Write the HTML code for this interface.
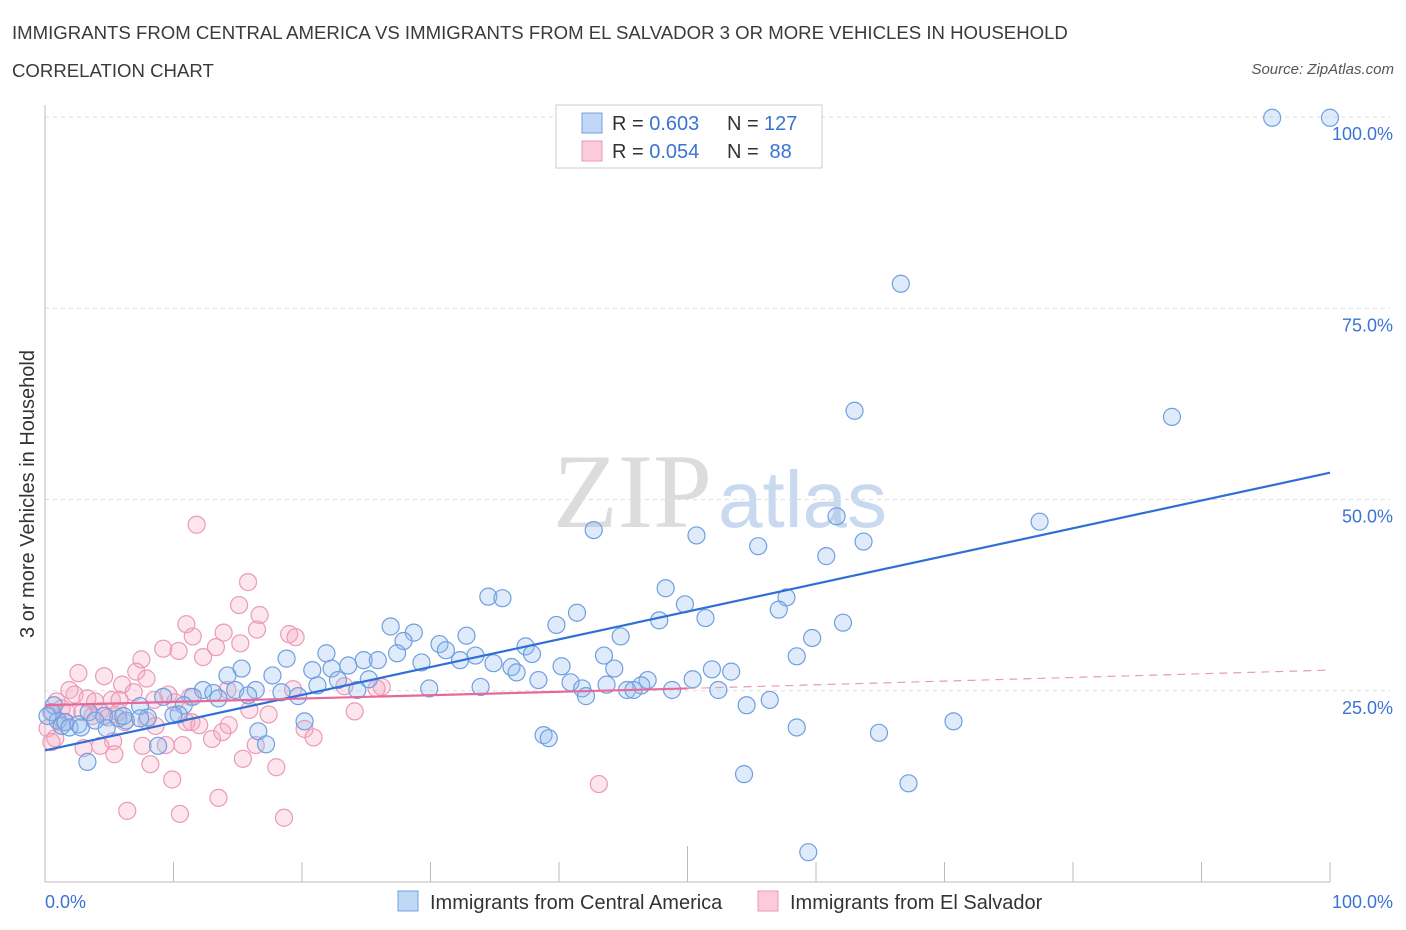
<!DOCTYPE html>
<html><head><meta charset="utf-8"><style>
body{margin:0;background:#fff;font-family:"Liberation Sans",sans-serif;}
#wrap{position:relative;width:1406px;height:930px;overflow:hidden;}
.t{position:absolute;white-space:nowrap;}
</style></head><body>
<div id="wrap">
<div class="t" style="left:12px;top:22px;font-size:18.6px;color:#3a3a3a;">IMMIGRANTS FROM CENTRAL AMERICA VS IMMIGRANTS FROM EL SALVADOR 3 OR MORE VEHICLES IN HOUSEHOLD</div>
<div class="t" style="left:12px;top:60px;font-size:18.6px;color:#3a3a3a;">CORRELATION CHART</div>
<div class="t" style="right:12px;top:61px;font-size:15px;color:#555;font-style:italic;">Source: ZipAtlas.com</div>
<svg id="svg" width="1406" height="930" style="position:absolute;left:0;top:0"></svg>
</div>
<script>
const blueX=[95.5,100,66.6,63.0,87.7,77.4,61.6,42.7,50.7,55.5,63.7,60.8,48.3,34.5,35.6,57.7,49.8,41.4,57.1,47.8,51.4,62.1,26.9,28.7,39.8,32.8,27.9,44.8,59.7,21.9,30.7,37.4,31.2,27.4,33.5,37.9,43.5,58.5,18.8,24.8,25.9,23.6,29.3,32.3,15.3,20.8,22.3,34.9,36.3,40.2,44.3,51.9,53.4,14.2,17.7,36.7,22.8,25.2,38.4,46.9,50.4,40.9,46.4,16.4,21.2,29.9,33.9,41.8,43.7,45.3,45.8,48.8,52.4,12.3,13.1,14.8,18.4,19.7,24.3,42.1,9.2,11.5,13.5,15.8,10.8,7.4,10.4,54.6,56.4,3.4,4.6,5.7,6.3,8.0,10.0,0.5,1.0,1.3,1.6,1.9,2.6,2.8,3.9,4.8,6.1,7.4,20.2,16.6,70.7,58.5,64.9,38.8,39.2,8.8,17.2,3.3,54.4,67.2,59.4,0.7,0.2];
const blueY=[99.9,99.9,78.2,61.6,60.8,47.1,47.8,46.0,45.3,43.9,44.5,42.6,38.4,37.3,37.1,37.2,36.3,35.2,35.6,34.2,34.5,33.9,33.4,32.6,33.6,32.2,31.5,32.1,31.9,29.9,31.1,30.8,30.3,29.9,29.6,29.8,29.6,29.5,29.2,29.0,29.0,28.3,28.7,29.0,27.9,27.7,27.9,28.6,28.1,28.2,27.9,27.8,27.5,27.0,27.0,27.4,26.4,26.5,26.4,26.4,26.5,26.1,25.7,25.1,25.7,25.3,25.5,25.3,25.8,25.1,25.1,25.1,25.1,25.1,24.7,25.1,24.8,24.3,25.1,24.3,24.2,24.2,24.0,24.4,23.1,23.0,21.9,23.1,23.8,22.2,21.7,21.4,21.1,21.5,21.8,22.2,21.1,20.4,20.9,20.2,20.6,20.2,21.1,20.1,21.7,21.4,21.0,19.7,21.0,20.2,19.5,19.2,18.8,17.8,18.0,15.7,14.1,12.9,3.9,23.1,21.7];
const pinkX=[11.8,15.8,15.1,16.7,11.0,19.0,19.5,11.5,13.9,16.5,15.2,13.3,9.2,10.4,12.3,7.5,7.1,7.9,2.6,4.6,6.0,6.9,1.9,2.3,3.3,3.9,5.2,0.9,1.3,9.6,10.1,8.5,11.3,19.3,26.2,23.3,25.8,0.6,1.7,2.9,3.7,4.3,4.9,5.7,6.2,7.9,8.6,11.0,11.4,12.0,14.3,17.4,15.9,24.1,20.2,20.9,0.2,0.8,0.5,5.3,3.0,4.3,7.6,9.4,10.7,13.0,13.8,16.4,15.4,5.4,8.2,18.0,9.9,43.1,13.5,6.4,10.5,18.6,1.5,5.8,14.2];
const pinkY=[46.7,39.2,36.2,34.9,33.7,32.4,32.0,32.1,32.6,33.0,31.2,30.7,30.5,30.2,29.4,29.1,27.5,26.6,27.3,26.9,25.8,24.8,25.1,24.5,24.0,23.6,23.8,23.6,22.7,24.5,23.5,23.8,24.2,25.2,25.5,25.6,25.3,22.2,22.2,22.2,21.7,22.3,21.5,22.2,20.9,21.1,20.4,20.9,20.9,20.5,20.5,21.9,22.5,22.3,20.0,18.9,20.1,18.8,18.3,18.4,17.5,17.8,17.8,17.9,17.9,18.7,19.6,17.9,16.1,16.7,15.4,15.0,13.4,12.8,11.0,9.3,8.9,8.4,20.9,23.8,25.1];
const yTicks=[25,50,75,100];
const yTickLabels=["25.0%","50.0%","75.0%","100.0%"];
const blueTrend=[17.2,53.5];
const pinkTrend=[23.1,25.3,27.7];

const svg=document.getElementById('svg');
const NS='http://www.w3.org/2000/svg';
const X0=45,X1=1330,Y0=882,Y100=117;
const sx=v=>X0+(X1-X0)*v/100, sy=v=>Y0-(Y0-Y100)*v/100;
function mk(tag,attrs,parent){const e=document.createElementNS(NS,tag);for(const k in attrs)e.setAttribute(k,attrs[k]);(parent||svg).appendChild(e);return e;}
let w=mk('text',{x:553,y:527,'font-size':106,'font-family':'Liberation Serif,serif',fill:'#dcdcdc'});w.textContent='ZIP';


let w2=mk('text',{x:718,y:527,'font-size':80,'font-family':'Liberation Sans,sans-serif',fill:'#c9d9ef'});w2.textContent='atlas';


yTicks.forEach((t,i)=>{
 const g=mk('line',{x1:X0,x2:X1+60,y1:sy(t),y2:sy(t),stroke:'#dedede','stroke-dasharray':'4,4'});
 
 
 const l=mk('text',{x:1393,y:sy(t)+23,'text-anchor':'end','font-size':18,fill:'#3b73d4'});l.textContent=yTickLabels[i];
 
 
});
let ax=mk('line',{x1:X0,x2:X0,y1:105,y2:Y0,stroke:'#bbb'});


let bx=mk('line',{x1:X0,x2:X1,y1:Y0,y2:Y0,stroke:'#bbb'});


for(let i=0;i<=10;i++){const tk=mk('line',{x1:sx(i*10),x2:sx(i*10),y1:Y0,y2:i==5?846:862,stroke:'#bbb'});
 
 }
function pts(xs,ys,fill,stroke,name){xs.forEach((x,i)=>{const c=mk('circle',{cx:sx(x),cy:sy(ys[i]),r:8.5,fill:fill,stroke:stroke,'stroke-width':1.2});
 
 });}
pts(pinkX,pinkY,'rgba(245,168,195,0.3)','#eb9ab7','point-el-salvador');
pts(blueX,blueY,'rgba(150,190,240,0.3)','#6f9fe0','point-central-america');
let bl=mk('line',{x1:sx(0),y1:sy(blueTrend[0]),x2:sx(100),y2:sy(blueTrend[1]),stroke:'#2f6fd6','stroke-width':2.2});


let pl=mk('line',{x1:sx(0),y1:sy(pinkTrend[0]),x2:sx(50),y2:sy(pinkTrend[1]),stroke:'#e8689a','stroke-width':2.2});


let pd=mk('line',{x1:sx(50),y1:sy(pinkTrend[1]),x2:sx(100),y2:sy(pinkTrend[2]),stroke:'#eb9ab7','stroke-width':1.2,'stroke-dasharray':'8,6'});


let xl0=mk('text',{x:45,y:908,'font-size':18,fill:'#3b73d4'});xl0.textContent='0.0%';


let xl1=mk('text',{x:1393,y:908,'text-anchor':'end','font-size':18,fill:'#3b73d4'});xl1.textContent='100.0%';


let yt=mk('text',{x:0,y:0,'font-size':20,fill:'#333','text-anchor':'middle',transform:'translate(34,494) rotate(-90)'});yt.textContent='3 or more Vehicles in Household';


let lb=mk('rect',{x:556,y:105,width:266,height:63,fill:'#fff',stroke:'#ccc'});


[[0,'rgba(150,190,240,0.6)','#6f9fe0','0.603','127'],[1,'rgba(245,168,195,0.6)','#eb9ab7','0.054',' 88']].forEach(r=>{
 const y=113+r[0]*28;
 const s=mk('rect',{x:582,y:y,width:20,height:20,fill:r[1],stroke:r[2]});
 
 
 const t=mk('text',{x:612,y:y+17,'font-size':20,fill:'#333'});
 t.innerHTML='R = <tspan fill="#3b73d4">'+r[3]+'</tspan><tspan x="727">N = </tspan><tspan fill="#3b73d4" x="764" style="white-space:pre">'+r[4]+'</tspan>';
 
 
});
[[398,'rgba(150,190,240,0.6)','#6f9fe0','Immigrants from Central America'],[758,'rgba(245,168,195,0.6)','#eb9ab7','Immigrants from El Salvador']].forEach(r=>{
 const s=mk('rect',{x:r[0],y:891,width:20,height:20,fill:r[1],stroke:r[2]});
 
 
 const t=mk('text',{x:r[0]+32,y:909,'font-size':20,fill:'#333'});t.textContent=r[3];
 
 
});
</script>
</body></html>
